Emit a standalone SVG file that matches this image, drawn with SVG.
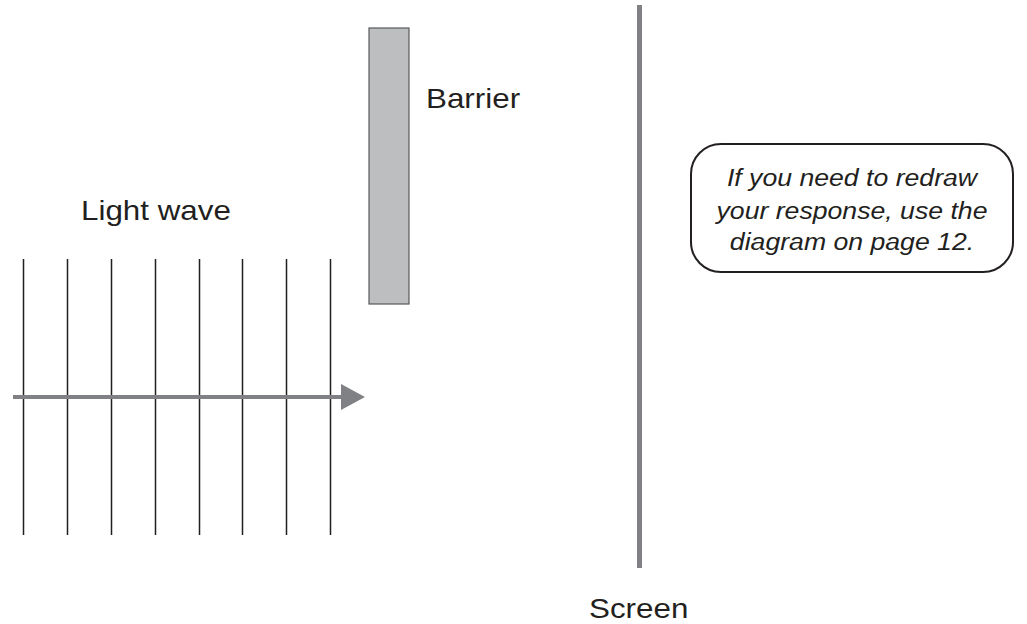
<svg xmlns="http://www.w3.org/2000/svg" width="1027" height="624" viewBox="0 0 1027 624">
  <style>
    .label { font-family: "Liberation Sans", Arial, sans-serif; font-size: 28px; fill: #231f20; }
    .note { font-family: "Liberation Sans", Arial, sans-serif; font-size: 24px; font-style: italic; fill: #231f20; text-anchor: middle; }
    .front { stroke: #231f20; stroke-width: 1.5; }
  </style>
  <defs>
    <marker id="arrowhead" markerWidth="6" markerHeight="7" refX="0" refY="3.25" orient="auto" markerUnits="strokeWidth">
      <path d="M0,0 L6,3.25 L0,6.5 Z" fill="#808184"/>
    </marker>
  </defs>
  <rect width="1027" height="624" fill="#ffffff"/>

  <!-- plane wavefronts -->
  <g id="wavefronts" class="front">
    <line x1="23.5" y1="259" x2="23.5" y2="535"/>
    <line x1="67.5" y1="259" x2="67.5" y2="535"/>
    <line x1="111.5" y1="259" x2="111.5" y2="535"/>
    <line x1="155.5" y1="259" x2="155.5" y2="535"/>
    <line x1="199.5" y1="259" x2="199.5" y2="535"/>
    <line x1="242.5" y1="259" x2="242.5" y2="535"/>
    <line x1="286.5" y1="259" x2="286.5" y2="535"/>
    <line x1="330.5" y1="259" x2="330.5" y2="535"/>
  </g>

  <!-- direction of travel -->
  <g id="connectors">
    <line x1="13" y1="397" x2="341" y2="397" stroke="#808184" stroke-width="4" marker-end="url(#arrowhead)"/>
  </g>

  <g id="light-wave-label">
    <text class="label" transform="translate(81,220) scale(1.12,1)">Light wave</text>
  </g>

  <g id="barrier">
    <rect x="369" y="28" width="40" height="276" fill="#bcbec0" stroke="#58595b" stroke-width="1.2"/>
    <text class="label" transform="translate(426,108) scale(1.12,1)">Barrier</text>
  </g>

  <g id="screen">
    <line x1="639.5" y1="5" x2="639.5" y2="568" stroke="#808184" stroke-width="5"/>
    <text class="label" transform="translate(589,618) scale(1.12,1)">Screen</text>
  </g>

  <g id="note">
    <rect x="691" y="144" width="322" height="128" rx="30" ry="30" fill="#ffffff" stroke="#231f20" stroke-width="2"/>
    <text class="note" transform="translate(852,186) scale(1.11,1)">If you need to redraw</text>
    <text class="note" transform="translate(852,219) scale(1.11,1)">your response, use the</text>
    <text class="note" transform="translate(852,250) scale(1.11,1)">diagram on page 12.</text>
  </g>
</svg>
